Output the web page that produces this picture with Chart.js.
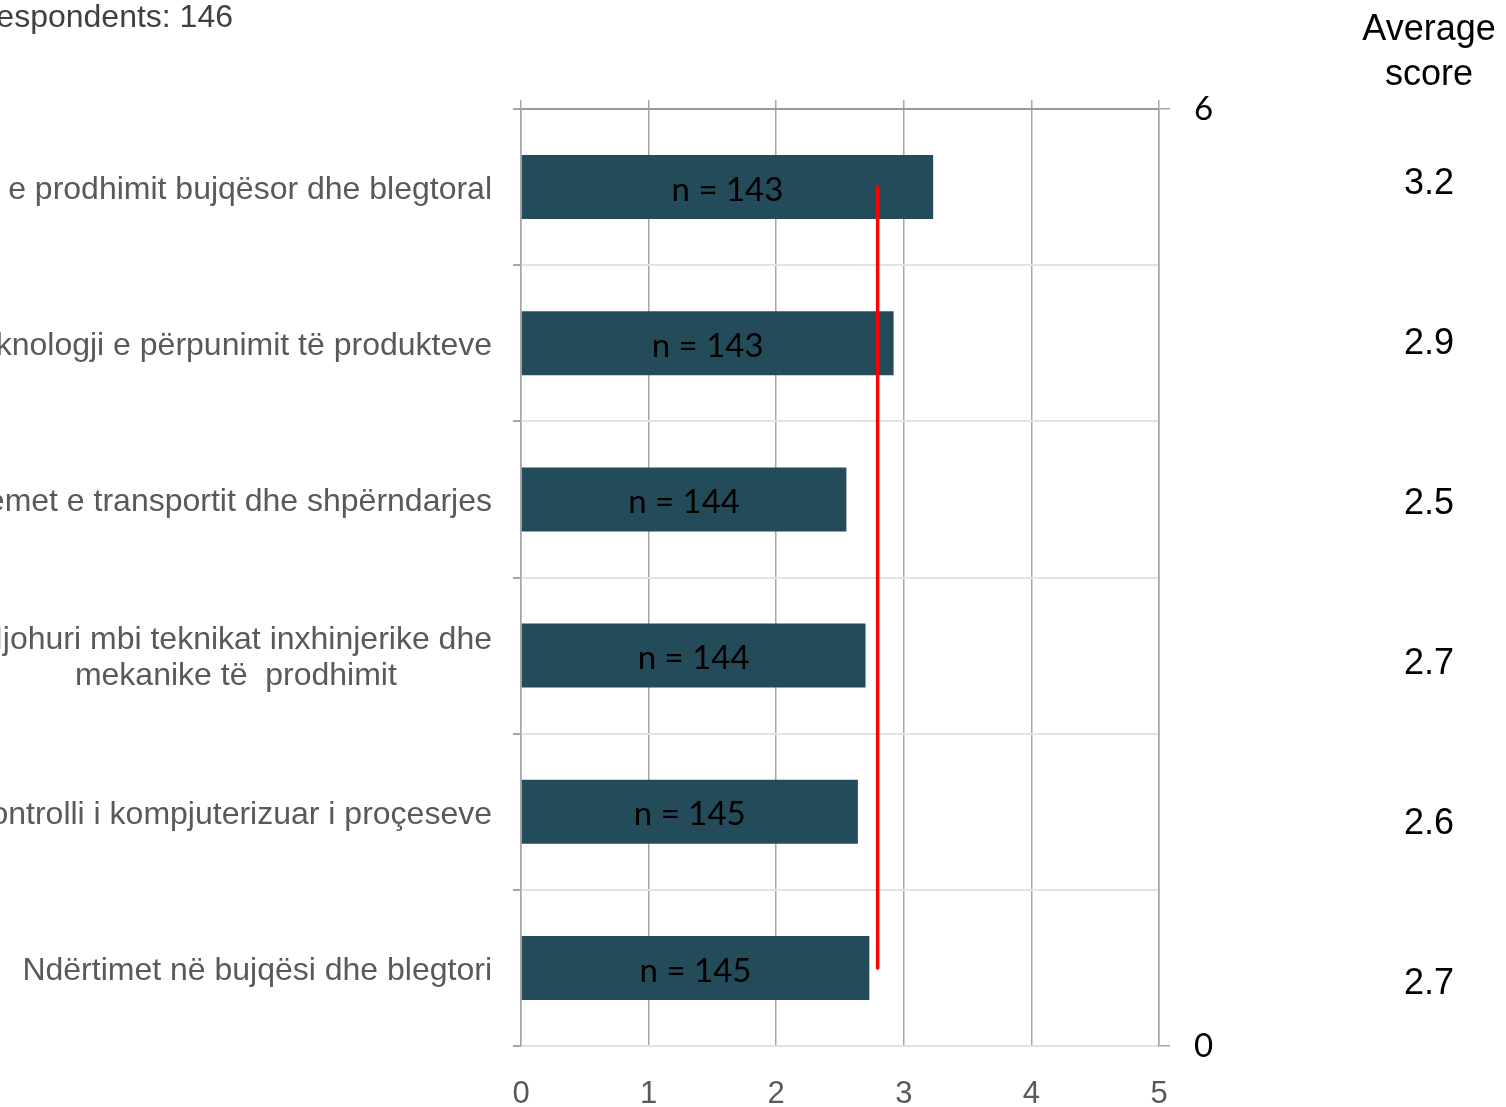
<!DOCTYPE html>
<html>
<head>
<meta charset="utf-8">
<script src="https://cdn.jsdelivr.net/npm/chart.js@4/dist/chart.umd.min.js"></script>
<style>
  body { margin: 0; background: #fff; }
  canvas { display: block; }
</style>
</head>
<body>
<canvas id="chart" width="1506" height="1107"></canvas>
<script>
// data
const categories = [
    "Teknologjia e prodhimit bujqësor dhe blegtoral",
    "Teknologji e përpunimit të produkteve",
    "Sistemet e transportit dhe shpërndarjes",
    ["Njohuri mbi teknikat inxhinjerike dhe", "mekanike të  prodhimit"],
    "Kontrolli i kompjuterizuar i proçeseve",
    "Ndërtimet në bujqësi dhe blegtori",
];
const scoreValues = [3.23, 2.92, 2.55, 2.70, 2.64, 2.73];
const respondentCounts = [143, 143, 144, 144, 145, 145];
const averageScores = ["3.2", "2.9", "2.5", "2.7", "2.6", "2.7"];
const xTicks = [0, 1, 2, 3, 4, 5];
const respondentsNote = "Respondents: 146";
const scoreHeader = ["Average", "score"];

const meanScore = scoreValues.reduce((a, b) => a + b, 0) / scoreValues.length;
const meanLine = [
    { x: meanScore, y: 0.5 },
    { x: meanScore, y: 5.5 },
];

const ARIAL = "'Liberation Sans', Arial, sans-serif";
const CALIBRI = "Lato, 'Open Sans', sans-serif";

// labels, bar counts and the score column
const textPlugin = {
    id: "texts",
    afterDatasetsDraw(chart) {
        const ctx = chart.ctx;
        const yScale = chart.scales.y;
        const ys = chart.scales.ys;
        const bars = chart.getDatasetMeta(0).data;
        ctx.save();

        // n = ... inside bars
        ctx.font = "33px " + CALIBRI;
        ctx.fillStyle = "#000";
        ctx.textAlign = "center";
        ctx.textBaseline = "middle";
        bars.forEach((bar, i) => {
            ctx.fillText("n = " + respondentCounts[i], (bar.x + bar.base) / 2, bar.y + 3);
        });

        // category labels on the left
        ctx.font = "32px " + ARIAL;
        ctx.fillStyle = "#595959";
        const right = yScale.right - 29;
        categories.forEach((label, i) => {
            const lines = Array.isArray(label) ? label : [label];
            const widest = Math.max(...lines.map((l) => ctx.measureText(l).width));
            const cx = right - widest / 2;
            const cy = yScale.getPixelForTick(i) + 3;
            const lh = 36;
            lines.forEach((l, j) => {
                ctx.fillText(l, cx, cy + (j - (lines.length - 1) / 2) * lh);
            });
        });

        // respondents note
        ctx.fillStyle = "#404040";
        ctx.textAlign = "right";
        ctx.fillText(respondentsNote, 233, 18);

        // average score column
        ctx.font = "36px " + ARIAL;
        ctx.fillStyle = "#000";
        ctx.textAlign = "center";
        ctx.fillText(scoreHeader[0], 1429, 30);
        ctx.fillText(scoreHeader[1], 1429, 75);
        averageScores.forEach((s, i) => {
            ctx.fillText(s, 1429, ys.getPixelForValue(i) + 3);
        });

        ctx.restore();
    },
};

const fixSize = (w, h) => (scale) => {
    if (w !== null) scale.width = w;
    if (h !== null) scale.height = h;
};

new Chart(document.getElementById("chart"), {
    type: "bar",
    data: {
        labels: categories,
        datasets: [
            {
                data: scoreValues,
                backgroundColor: "#244B5A",
                barPercentage: 0.41,
                categoryPercentage: 1,
                grouped: false,
                xAxisID: "x",
                yAxisID: "y",
                order: 1,
            },
            {
                type: "line",
                data: meanLine,
                borderColor: "#FF0000",
                borderWidth: 3.5,
                borderCapStyle: "round",
                pointRadius: 0,
                xAxisID: "x",
                yAxisID: "y2",
                order: 0,
            },
        ],
    },
    options: {
        indexAxis: "y",
        responsive: false,
        animation: false,
        layout: { padding: 0 },
        plugins: {
            legend: { display: false },
            tooltip: { enabled: false },
        },
        scales: {
            x: {
                type: "linear",
                position: "bottom",
                min: xTicks[0],
                max: xTicks[xTicks.length - 1],
                afterBuildTicks: (s) => { s.ticks = xTicks.map((v) => ({ value: v })); },
                ticks: {
                    color: "#595959",
                    font: { family: ARIAL, size: 31 },
                    padding: 30,
                    maxRotation: 0,
                },
                grid: { color: "#A6A6A6", lineWidth: 1.5, drawTicks: false },
                border: { display: false },
                afterFit: fixSize(null, 61),
            },
            x2: {
                type: "linear",
                position: "top",
                min: xTicks[0],
                max: xTicks[xTicks.length - 1],
                afterBuildTicks: (s) => { s.ticks = xTicks.map((v) => ({ value: v })); },
                ticks: { display: false },
                grid: { drawOnChartArea: false, color: "#A6A6A6", lineWidth: 1.5, tickLength: 9 },
                border: { color: "#999999", width: 2 },
                afterFit: fixSize(null, 109),
            },
            y: {
                type: "category",
                position: "left",
                ticks: { display: false },
                grid: {
                    offset: true,
                    color: "#E3E3E3",
                    lineWidth: 2,
                    tickColor: "#A6A6A6",
                    tickLength: 8,
                },
                border: { color: "#A6A6A6", width: 1.5 },
                afterFit: fixSize(521, null),
            },
            y2: {
                type: "linear",
                position: "right",
                offset: false,
                min: 0,
                max: 6,
                ticks: {
                    stepSize: 6,
                    color: "#000",
                    font: { family: CALIBRI, size: 33 },
                    padding: 24,
                },
                grid: { offset: false, drawOnChartArea: false, color: "#A6A6A6", lineWidth: 1.5, tickLength: 11 },
                border: { color: "#A6A6A6", width: 1.5 },
                afterFit: fixSize(347, null),
            },
            ys: {
                type: "linear",
                axis: "y",
                display: false,
                offset: false,
                grid: { offset: false },
                reverse: true,
                min: -0.45,
                max: 5.406,
            },
        },
    },
    plugins: [textPlugin],
});
</script>
</body>
</html>
